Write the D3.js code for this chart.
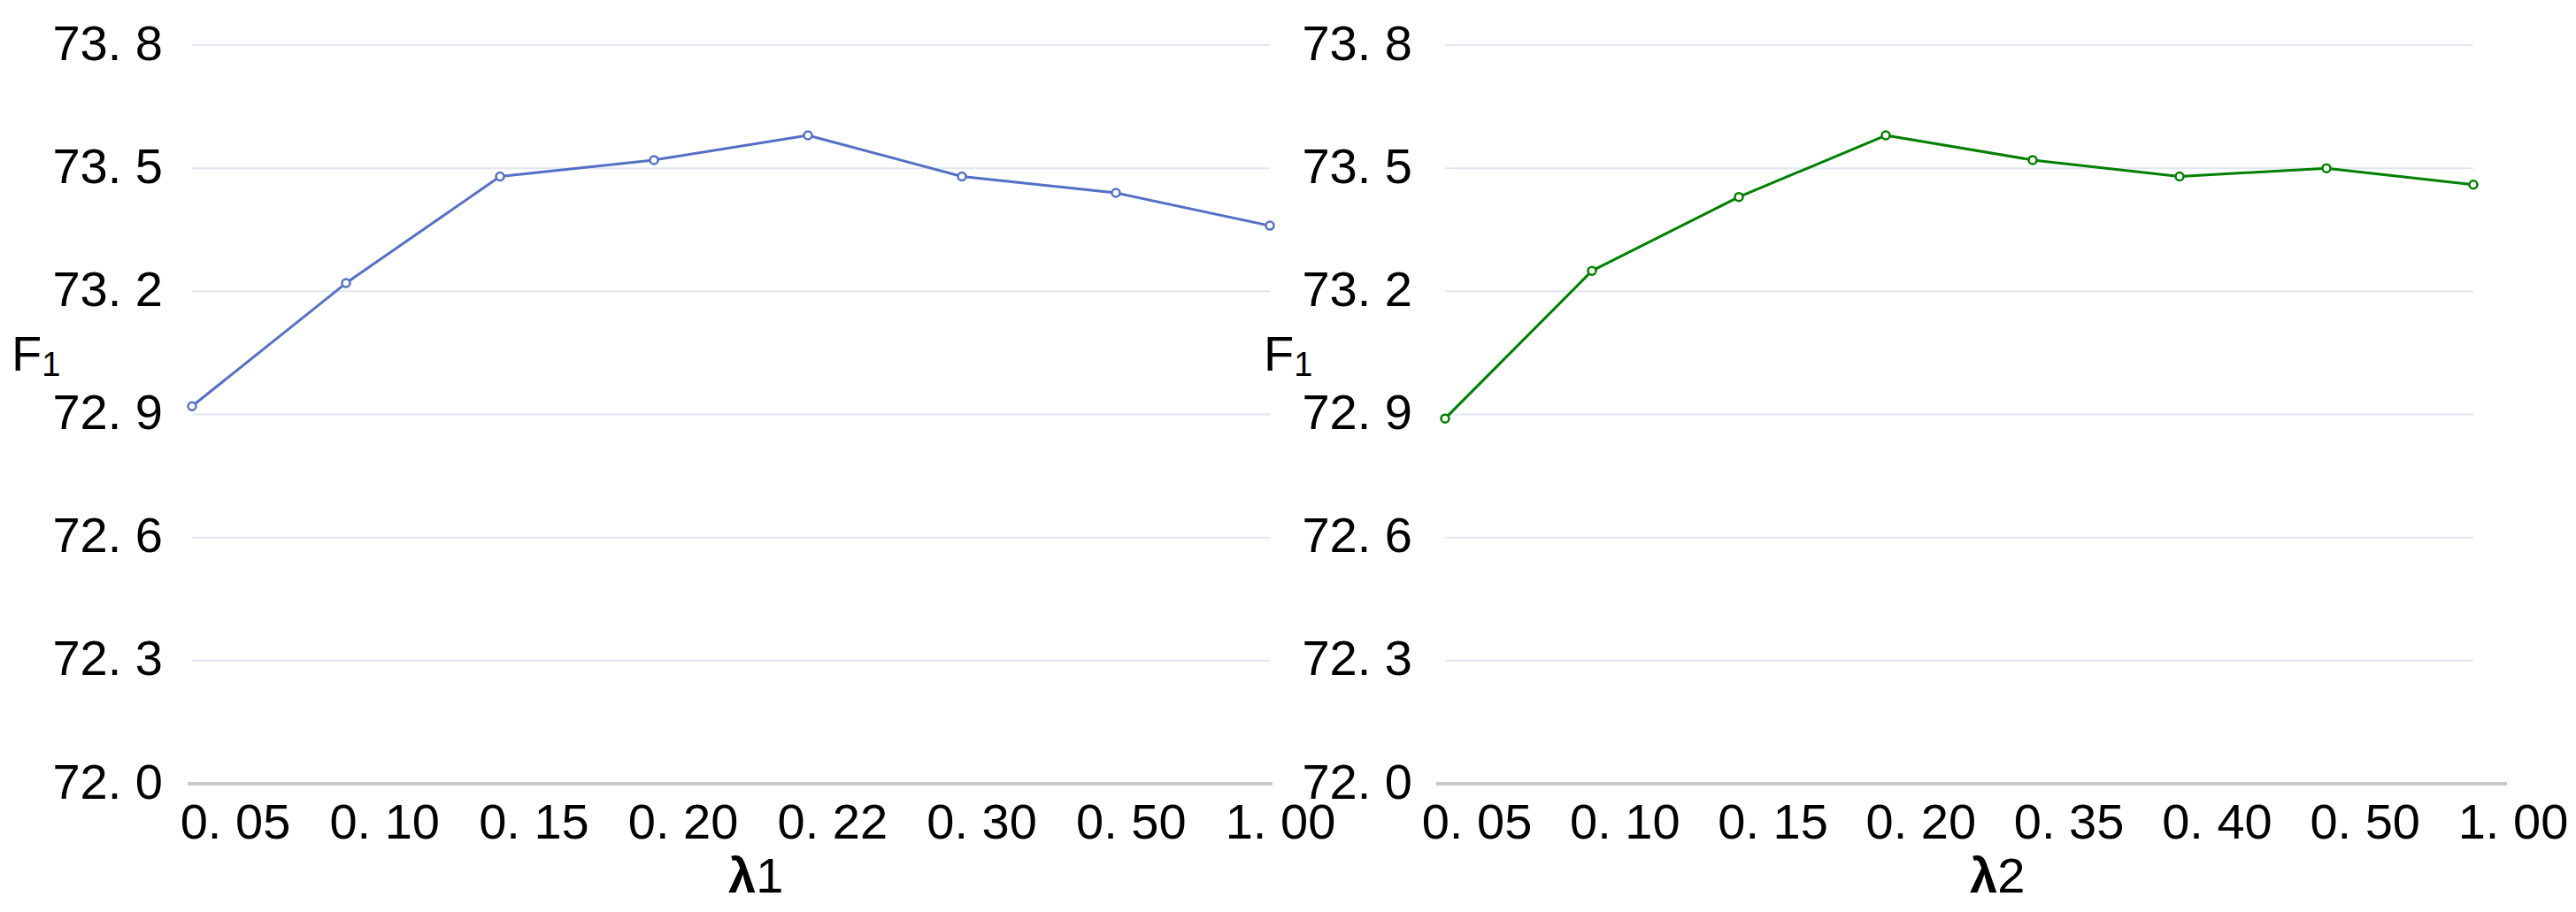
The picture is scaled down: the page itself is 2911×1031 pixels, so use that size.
<!DOCTYPE html>
<html>
<head>
<meta charset="utf-8">
<script src="https://cdn.jsdelivr.net/npm/d3@7/dist/d3.min.js"></script>
<style>
  html, body { margin: 0; padding: 0; background: #ffffff; }
  svg { display: block; font-family: "Liberation Sans", Arial, sans-serif; }
</style>
</head>
<body>
<svg id="chart" width="2911" height="1031"></svg>
<script>
// ---- data ----
const categories1 = ["0.05", "0.10", "0.15", "0.20", "0.22", "0.30", "0.50", "1.00"];
const values1 = [72.92, 73.22, 73.48, 73.52, 73.58, 73.48, 73.44, 73.36];
const categories2 = ["0.05", "0.10", "0.15", "0.20", "0.35", "0.40", "0.50", "1.00"];
const values2 = [72.89, 73.25, 73.43, 73.58, 73.52, 73.48, 73.50, 73.46];
const yTicks = [72.0, 72.3, 72.6, 72.9, 73.2, 73.5, 73.8];
const xTitles = ["λ", "λ"];
const xTitleSubs = ["1", "2"];

// ---- layout ----
const svg = d3.select("#chart");
const yTop = 51, yBottom = 886;
const y = d3.scaleLinear().domain([72.0, 73.8]).range([yBottom, yTop]);
const fmt = v => d3.format(".1f")(v).replace(".", ". ");
const fmtCat = c => c.replace(".", ". ");

const panels = [
  { cats: categories1, vals: values1, color: "#5470c6",
    plot: [217, 1435], labelRange: [266, 1447], axis: [212, 1438],
    yLabelX: 184, f1X: 13, titleX: 823, title: 0 },
  { cats: categories2, vals: values2, color: "#008000",
    plot: [1633, 2795], labelRange: [1669, 2840], axis: [1623, 2833],
    yLabelX: 1596, f1X: 1428, titleX: 2226, title: 1 }
];

panels.forEach(p => {
  const g = svg.append("g");
  const x = d3.scalePoint().domain(p.cats).range(p.plot);
  const xl = d3.scalePoint().domain(p.cats).range(p.labelRange);

  // gridlines
  g.selectAll("line.grid")
    .data(yTicks.filter(t => t > 72.0))
    .join("line")
    .attr("class", "grid")
    .attr("x1", p.plot[0]).attr("x2", p.plot[1])
    .attr("y1", d => y(d)).attr("y2", d => y(d))
    .attr("stroke", "#e0e6f1").attr("stroke-width", 2);

  // x axis baseline
  g.append("line")
    .attr("x1", p.axis[0]).attr("x2", p.axis[1])
    .attr("y1", y(72.0)).attr("y2", y(72.0))
    .attr("stroke", "#c8c8c8").attr("stroke-width", 4);

  // y tick labels
  g.selectAll("text.ylab")
    .data(yTicks)
    .join("text")
    .attr("class", "ylab")
    .attr("x", p.yLabelX)
    .attr("y", d => y(d) - 3)
    .attr("dy", "0.35em")
    .attr("text-anchor", "end")
    .attr("font-size", 56)
    .attr("fill", "#000")
    .text(fmt);

  // x tick labels
  g.selectAll("text.xlab")
    .data(p.cats)
    .join("text")
    .attr("class", "xlab")
    .attr("x", d => xl(d))
    .attr("y", 948)
    .attr("text-anchor", "middle")
    .attr("font-size", 56)
    .attr("fill", "#000")
    .text(fmtCat);

  // x axis title
  const t = g.append("text")
    .attr("x", p.titleX).attr("y", 1009)
    .attr("font-size", 56).attr("fill", "#000");
  t.append("tspan").attr("font-weight", "bold").text(xTitles[p.title]);
  t.append("tspan").text(xTitleSubs[p.title]);

  // y axis title F1
  const f = g.append("text")
    .attr("x", p.f1X).attr("y", 419)
    .attr("font-size", 56).attr("fill", "#000");
  f.append("tspan").text("F");
  f.append("tspan").attr("font-size", 38).attr("dy", 6).text("1");

  // line
  const data = p.cats.map((c, i) => ({ c, v: p.vals[i] }));
  g.append("path")
    .datum(data)
    .attr("fill", "none")
    .attr("stroke", p.color)
    .attr("stroke-width", 3)
    .attr("stroke-linejoin", "round")
    .attr("d", d3.line().x(d => x(d.c)).y(d => y(d.v)));

  // markers
  g.selectAll("circle")
    .data(data)
    .join("circle")
    .attr("cx", d => x(d.c))
    .attr("cy", d => y(d.v))
    .attr("r", 4.5)
    .attr("fill", "#fff")
    .attr("stroke", p.color)
    .attr("stroke-width", 2.5);
});
</script>
</body>
</html>
